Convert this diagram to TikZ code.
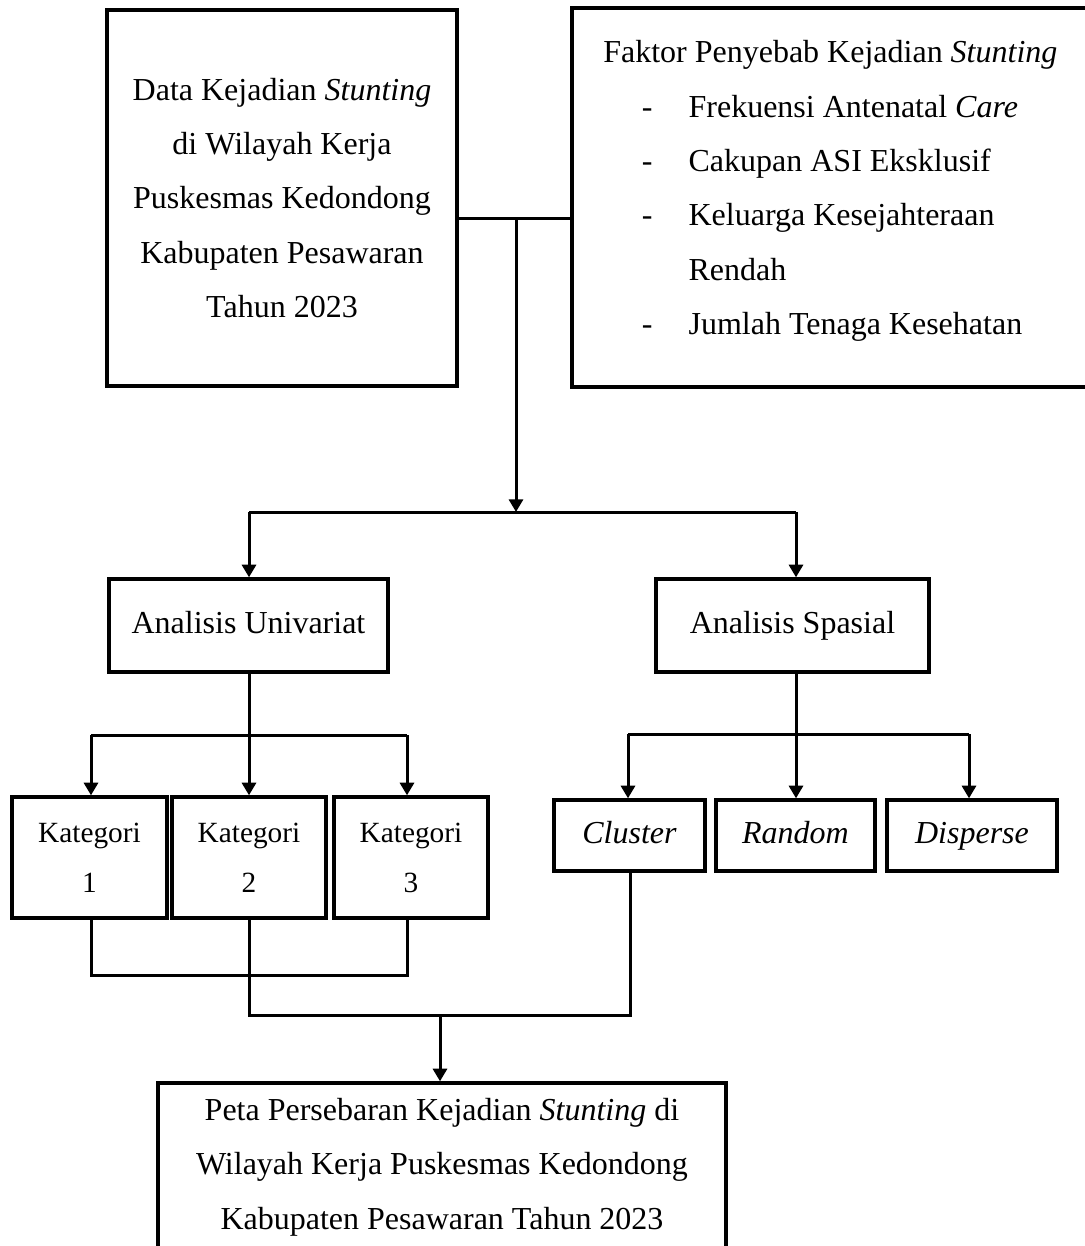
\documentclass[tikz,border=0pt]{standalone}
\usepackage{fontspec}
\setmainfont{Liberation Serif}
\usetikzlibrary{arrows.meta}
\begin{document}
\begin{tikzpicture}[x=0.75pt,y=-0.75pt,
  box/.style={draw, line width=2.5pt, inner sep=0pt, align=center},
  txt/.style={inner sep=0pt},
  big/.style={font=\fontsize{24}{40.8}\selectfont},
  small/.style={font=\fontsize{22}{37.5}\selectfont},
  conn/.style={line width=2.25pt},
  arr/.style={line width=2.25pt, -{Triangle[length=9.5pt,width=10.5pt]}}]
\useasboundingbox (0,0) rectangle (1085,1246);
\clip (0,0) rectangle (1085,1246);
\fill[white] (0,0) rectangle (1085,1246);

% top boxes
\node[box, big, minimum width=262.5pt, minimum height=282pt] (data) at (282,198)
  {Data Kejadian \textit{Stunting}\\ di Wilayah Kerja\\ Puskesmas Kedondong\\ Kabupaten Pesawaran\\ Tahun 2023};
\node[box, minimum width=396pt, minimum height=284.25pt] (faktor) at (836,197.5) {};
\node[txt, big, anchor=west, align=left] (ftext) at (603,191)
  {Faktor Penyebab Kejadian \textit{Stunting}\\
   \hspace*{29pt}\makebox[35pt][l]{-}Frekuensi Antenatal \textit{Care}\\
   \hspace*{29pt}\makebox[35pt][l]{-}Cakupan ASI Eksklusif\\
   \hspace*{29pt}\makebox[35pt][l]{-}Keluarga Kesejahteraan\\
   \hspace*{29pt}\makebox[35pt][l]{}Rendah\\
   \hspace*{29pt}\makebox[35pt][l]{-}Jumlah Tenaga Kesehatan};

% analysis boxes
\node[box, big, minimum width=209.25pt, minimum height=69.75pt] (univ) at (248.5,625.5) {\raisebox{5pt}{Analisis Univariat}};
\node[box, big, minimum width=204.75pt, minimum height=69.75pt] (spas) at (792.5,625.5) {\raisebox{5pt}{Analisis Spasial}};

% kategori boxes
\node[box, small, minimum width=116.25pt, minimum height=90.75pt] (k1) at (89.5,857.5) {Kategori\\1};
\node[box, small, minimum width=115.5pt, minimum height=90.75pt] (k2) at (249,857.5) {Kategori\\2};
\node[box, small, minimum width=115.5pt, minimum height=90.75pt] (k3) at (411,857.5) {Kategori\\3};

% pattern boxes
\tikzset{pat/.style={box, big, minimum height=53.25pt, text height=17pt, text depth=5pt}}
\node[pat, minimum width=113.25pt] (clus) at (629.5,835.5) {\textit{Cluster}};
\node[pat, minimum width=119.25pt] (rand) at (795.5,835.5) {\textit{Random}};
\node[pat, minimum width=127.5pt] (disp) at (972,835.5) {\textit{Disperse}};

% bottom box
\node[box, minimum width=426pt, minimum height=162.75pt] (peta) at (442,1191.5) {};
\node[txt, big, align=center] (ptext) at (442,1167)
  {Peta Persebaran Kejadian \textit{Stunting} di\\ Wilayah Kerja Puskesmas Kedondong\\ Kabupaten Pesawaran Tahun 2023};

% junction coordinates
\coordinate (j1) at (516,218);
\coordinate (j2) at (516,512);
\coordinate (jl) at (249,512);
\coordinate (jr) at (796,512);
\coordinate (kl) at (91,735);
\coordinate (km) at (249,735);
\coordinate (kr) at (407,735);
\coordinate (cl) at (628,734);
\coordinate (cm) at (796,734);
\coordinate (cr) at (969,734);
\coordinate (b1) at (91,975);
\coordinate (b3) at (407,975);
\coordinate (m1) at (249,1015);
\coordinate (m2) at (630,1015);
\coordinate (m3) at (440,1015);

% top connectors
\draw[conn] (data.east |- j1) -- (faktor.west |- j1);
\draw[arr] (j1) -- (j2);
\draw[conn] (jl) -- (jr);
\draw[arr] (jl) -- (univ.north -| jl);
\draw[arr] (jr) -- (spas.north -| jr);

% univariat branch
\draw[conn] (univ.south -| km) -- (km);
\draw[conn] (kl) -- (kr);
\draw[arr] (kl) -- (k1.north -| kl);
\draw[arr] (km) -- (k2.north -| km);
\draw[arr] (kr) -- (k3.north -| kr);

% spasial branch
\draw[conn] (spas.south -| cm) -- (cm);
\draw[conn] (cl) -- (cr);
\draw[arr] (cl) -- (clus.north -| cl);
\draw[arr] (cm) -- (rand.north -| cm);
\draw[arr] (cr) -- (disp.north -| cr);

% joining to bottom
\draw[conn] (k1.south -| b1) -- (b1) -- (b3) -- (k3.south -| b3);
\draw[conn] (k2.south -| m1) -- (m1) -- (m2) -- (clus.south -| m2);
\draw[arr] (m3) -- (peta.north -| m3);
\end{tikzpicture}
\end{document}
